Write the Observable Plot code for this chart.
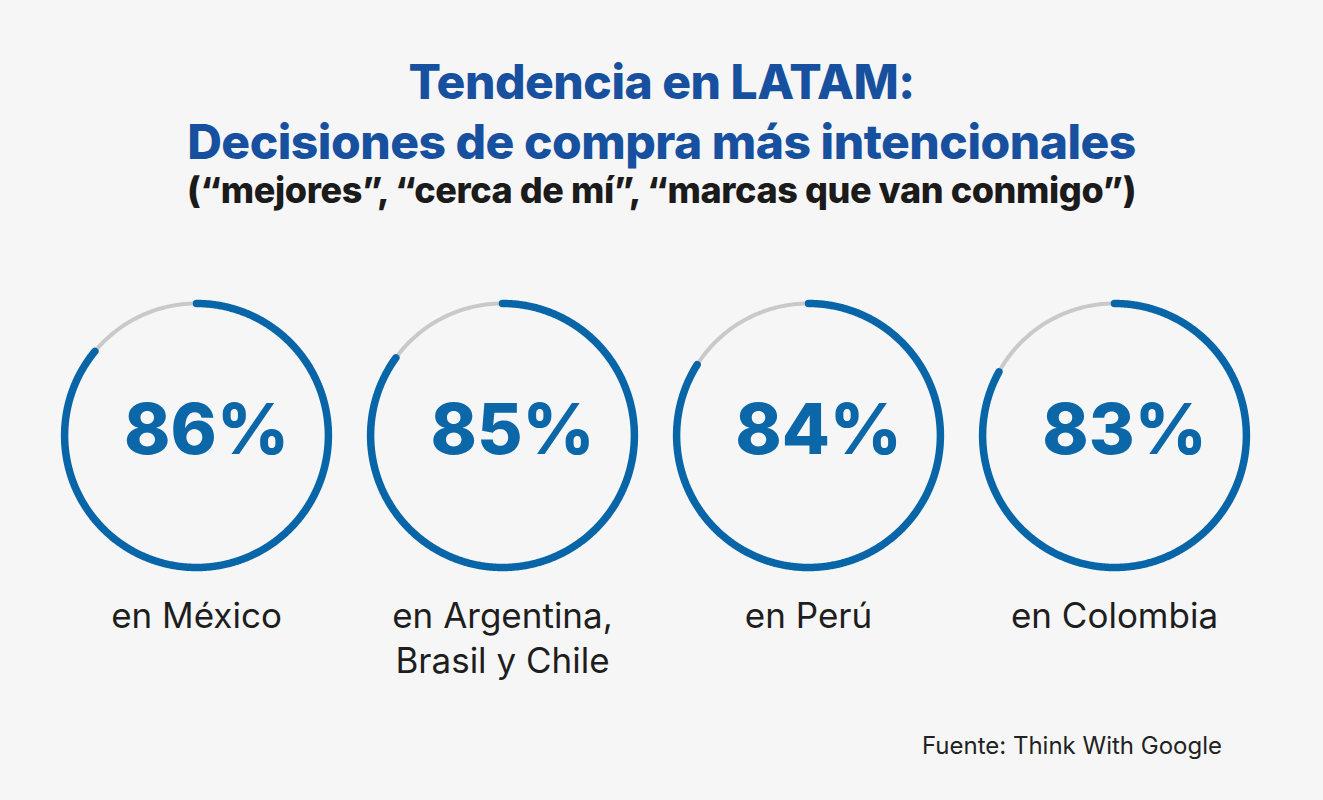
<!DOCTYPE html>
<html>
<head>
<meta charset="utf-8">
<script src="https://cdn.jsdelivr.net/npm/d3@7"></script>
<script src="https://cdn.jsdelivr.net/npm/@observablehq/plot@0.6"></script>
<style>
  html, body { margin: 0; padding: 0; background: #f6f6f6; width: 1323px; height: 800px; overflow: hidden; font-family: Inter, "Noto Sans", sans-serif; }
  #title { position: absolute; left: 0; width: 1323px; top: 52px; text-align: center; color: #17509f; font-weight: 800; font-size: 48px; line-height: 60px; letter-spacing: -0.5px; }
  #subtitle { position: absolute; left: 0; width: 1323px; top: 169px; text-align: center; color: #1b1b1b; font-weight: 800; font-size: 36px; line-height: 42px; letter-spacing: -0.4px; }
  #chart { position: absolute; left: 0; top: 240px; }
  #caption { position: absolute; right: 101px; top: 731px; color: #222; font-size: 24px; font-weight: 400; }
</style>
</head>
<body>
<div id="title">Tendencia en LATAM:<br>Decisiones de compra más intencionales</div>
<div id="subtitle">(“mejores”, “cerca de mí”, “marcas que van conmigo”)</div>
<div id="chart"></div>
<div id="caption">Fuente: Think With Google</div>
<script>
// ---- Data ----
const countries = ["México", "Argentina, Brasil y Chile", "Perú", "Colombia"];
const values = [86, 85, 84, 83];
const labels = ["en México", "en Argentina,\nBrasil y Chile", "en Perú", "en Colombia"];

// ---- Layout ----
const W = 1323, H = 460, ML = 42, MR = 56, R = 132, CY = 195;
const facetW = (W - ML - MR) / countries.length;
const xHalf = facetW / 2 / R;

// ring geometry derived from values
function arc(country, frac) {
  const n = Math.max(2, Math.round(frac * 720));
  return d3.range(n + 1).map(k => {
    const t = (k / n) * frac * 2 * Math.PI;
    return {country, x: Math.sin(t), y: Math.cos(t)};
  });
}
const track = countries.flatMap(c => arc(c, 1));
const progress = countries.flatMap((c, i) => arc(c, values[i] / 100));
const table = countries.map((c, i) => ({country: c, value: values[i], label: labels[i]}));

const plot = Plot.plot({
  width: W, height: H,
  marginLeft: ML, marginRight: MR, marginTop: 0, marginBottom: 0,
  style: {background: "transparent", overflow: "visible"},
  fx: {domain: countries, padding: 0, axis: null},
  x: {domain: [-xHalf, xHalf], axis: null},
  y: {domain: [-(H - CY) / R, CY / R], axis: null},
  marks: [
    Plot.line(track, {fx: "country", x: "x", y: "y", stroke: "#c9c9c9", strokeWidth: 4}),
    Plot.line(progress, {fx: "country", x: "x", y: "y", stroke: "#0866a8", strokeWidth: 7.5, strokeLinecap: "round"}),
    Plot.text(table, {fx: "country", x: () => 0, y: () => 0, text: d => d.value + "%", dx: 10, dy: -4,
      fill: "#0b67a7", fontSize: 70, fontWeight: 800, fontFamily: "Inter", letterSpacing: -1.5}),
    Plot.text(table, {fx: "country", x: () => 0, y: () => 0, text: "label", dy: 160, lineAnchor: "top",
      lineHeight: 1.3, fill: "#1e1e1e", fontSize: 35, fontWeight: 400, fontFamily: "Inter", letterSpacing: -0.3})
  ]
});
document.getElementById("chart").appendChild(plot);
</script>
</body>
</html>
